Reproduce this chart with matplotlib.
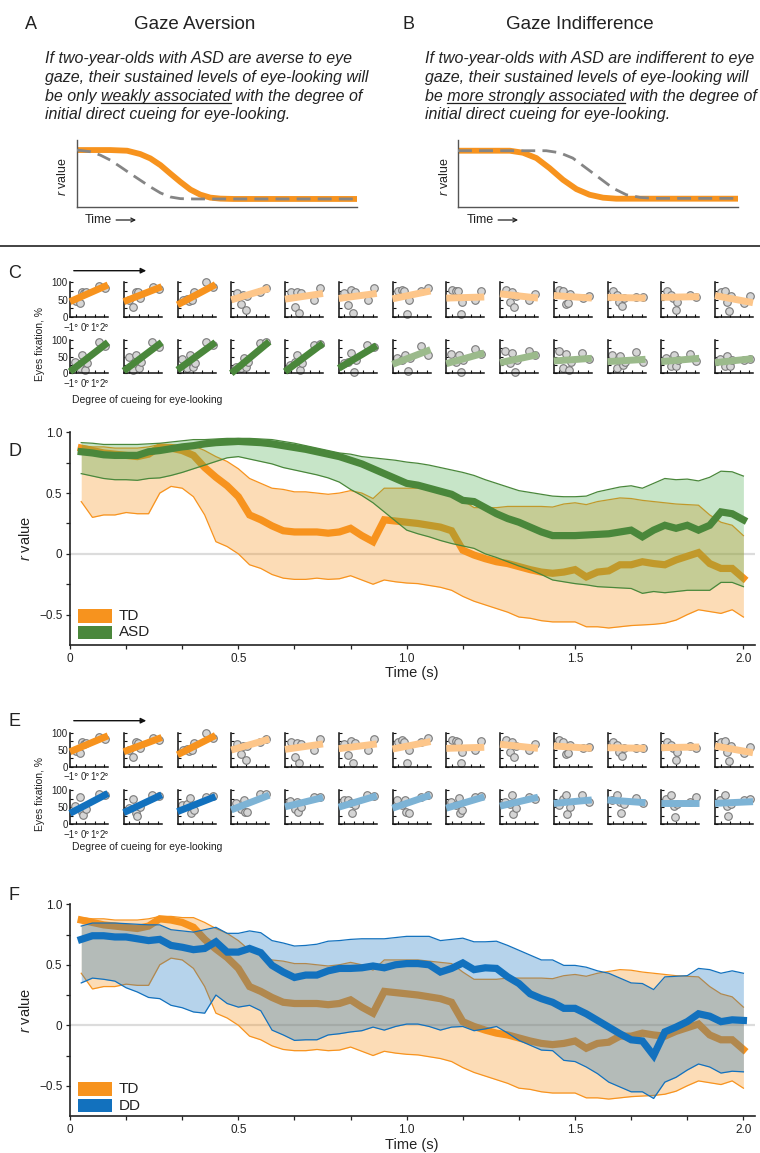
import numpy as np
import matplotlib
matplotlib.use("Agg")
import matplotlib.pyplot as plt
from matplotlib.patches import Rectangle, FancyArrowPatch
from matplotlib.lines import Line2D
from matplotlib.transforms import ScaledTranslation

plt.rcParams['font.family'] = ['Liberation Sans', 'DejaVu Sans']
plt.rcParams['mathtext.fontset'] = 'custom'
plt.rcParams['mathtext.it'] = 'Liberation Sans:italic'
plt.rcParams['mathtext.rm'] = 'Liberation Sans'

# ---------------------------------------------------------------- data
# frame times (30 Hz) for the sliding correlation
time_s = np.arange(1, 61) / 30

td_mean = [0.87, 0.85, 0.83, 0.82, 0.81, 0.80, 0.82, 0.88, 0.87, 0.85,
           0.81, 0.71, 0.63, 0.56, 0.47, 0.32, 0.28, 0.23, 0.19, 0.18,
           0.18, 0.18, 0.17, 0.18, 0.21, 0.15, 0.10, 0.28, 0.27, 0.26,
           0.25, 0.235, 0.22, 0.19, 0.03, -0.01, -0.04, -0.065, -0.08, -0.105,
           -0.13, -0.15, -0.16, -0.15, -0.13, -0.19, -0.15, -0.14, -0.09, -0.09,
           -0.065, -0.08, -0.09, -0.05, -0.02, 0.01, -0.08, -0.12, -0.12, -0.20]
td_hi = [0.89, 0.88, 0.88, 0.87, 0.87, 0.87, 0.88, 0.90, 0.90, 0.89,
         0.89, 0.85, 0.80, 0.76, 0.70, 0.62, 0.58, 0.54, 0.53, 0.51,
         0.51, 0.50, 0.49, 0.50, 0.52, 0.50, 0.455, 0.54, 0.54, 0.54,
         0.54, 0.53, 0.52, 0.51, 0.44, 0.38, 0.38, 0.38, 0.39, 0.39,
         0.39, 0.39, 0.385, 0.41, 0.42, 0.405, 0.43, 0.445, 0.46, 0.455,
         0.44, 0.43, 0.42, 0.41, 0.405, 0.40, 0.32, 0.26, 0.235, 0.15]
td_lo = [0.43, 0.30, 0.32, 0.32, 0.34, 0.33, 0.33, 0.50, 0.555, 0.54,
         0.47, 0.32, 0.10, 0.06, 0.00, -0.09, -0.12, -0.17, -0.20, -0.21,
         -0.21, -0.20, -0.21, -0.205, -0.18, -0.215, -0.25, -0.215, -0.23, -0.24,
         -0.245, -0.26, -0.275, -0.30, -0.35, -0.39, -0.42, -0.45, -0.48, -0.52,
         -0.53, -0.55, -0.56, -0.56, -0.56, -0.60, -0.60, -0.61, -0.60, -0.59,
         -0.585, -0.58, -0.57, -0.545, -0.50, -0.46, -0.475, -0.49, -0.46, -0.52]

asd_mean = [0.84, 0.83, 0.815, 0.81, 0.81, 0.81, 0.84, 0.85, 0.865, 0.88,
            0.89, 0.905, 0.915, 0.92, 0.925, 0.92, 0.915, 0.905, 0.89, 0.875,
            0.86, 0.84, 0.82, 0.80, 0.77, 0.74, 0.70, 0.66, 0.62, 0.58,
            0.565, 0.54, 0.515, 0.49, 0.44, 0.43, 0.38, 0.33, 0.29, 0.26,
            0.22, 0.18, 0.15, 0.15, 0.15, 0.155, 0.16, 0.165, 0.18, 0.195,
            0.14, 0.195, 0.235, 0.21, 0.235, 0.195, 0.235, 0.345, 0.33, 0.28]
asd_hi = [0.915, 0.91, 0.90, 0.90, 0.90, 0.90, 0.905, 0.91, 0.92, 0.93,
          0.94, 0.94, 0.945, 0.95, 0.95, 0.95, 0.945, 0.94, 0.925, 0.91,
          0.89, 0.87, 0.85, 0.83, 0.82, 0.80, 0.79, 0.78, 0.77, 0.755,
          0.745, 0.73, 0.71, 0.69, 0.67, 0.645, 0.61, 0.58, 0.55, 0.52,
          0.505, 0.49, 0.475, 0.47, 0.47, 0.475, 0.51, 0.53, 0.55, 0.56,
          0.54, 0.58, 0.62, 0.61, 0.615, 0.60, 0.63, 0.68, 0.675, 0.64]
asd_lo = [0.66, 0.64, 0.62, 0.61, 0.61, 0.605, 0.62, 0.625, 0.645, 0.67,
          0.70, 0.73, 0.76, 0.79, 0.80, 0.78, 0.76, 0.74, 0.71, 0.69,
          0.67, 0.65, 0.625, 0.59, 0.53, 0.48, 0.42, 0.345, 0.27, 0.195,
          0.165, 0.14, 0.11, 0.085, 0.065, 0.045, 0.0, -0.03, -0.065, -0.10,
          -0.13, -0.17, -0.215, -0.23, -0.245, -0.255, -0.27, -0.275, -0.28, -0.285,
          -0.325, -0.31, -0.32, -0.31, -0.30, -0.30, -0.30, -0.235, -0.235, -0.27]

dd_mean = [0.71, 0.74, 0.74, 0.73, 0.73, 0.715, 0.70, 0.71, 0.66, 0.645,
           0.625, 0.635, 0.69, 0.605, 0.605, 0.635, 0.60, 0.495, 0.44, 0.395,
           0.415, 0.415, 0.45, 0.47, 0.47, 0.475, 0.49, 0.475, 0.50, 0.51,
           0.51, 0.50, 0.44, 0.47, 0.515, 0.46, 0.475, 0.47, 0.40, 0.345,
           0.26, 0.22, 0.19, 0.14, 0.14, 0.095, 0.04, -0.015, -0.07, -0.12,
           -0.13, -0.25, -0.055, -0.015, 0.03, 0.095, 0.075, 0.03, 0.045, 0.04]
dd_hi = [0.82, 0.845, 0.845, 0.845, 0.84, 0.835, 0.83, 0.83, 0.79, 0.78,
         0.77, 0.79, 0.81, 0.76, 0.76, 0.78, 0.765, 0.70, 0.68, 0.655,
         0.66, 0.67, 0.695, 0.70, 0.71, 0.715, 0.715, 0.715, 0.725, 0.735,
         0.735, 0.735, 0.70, 0.71, 0.72, 0.69, 0.69, 0.695, 0.66, 0.62,
         0.58, 0.54, 0.54, 0.495, 0.495, 0.48, 0.45, 0.43, 0.39, 0.35,
         0.345, 0.295, 0.40, 0.405, 0.41, 0.47, 0.46, 0.43, 0.45, 0.43]
dd_lo = [0.35, 0.39, 0.38, 0.365, 0.31, 0.275, 0.23, 0.22, 0.165, 0.145,
         0.11, 0.10, 0.25, 0.18, 0.15, 0.165, 0.12, -0.04, -0.08, -0.125,
         -0.12, -0.12, -0.08, -0.07, -0.055, -0.045, -0.015, -0.04, -0.01, 0.01,
         0.01, -0.01, -0.04, -0.015, -0.01, -0.045, -0.03, -0.01, -0.065, -0.125,
         -0.165, -0.205, -0.21, -0.29, -0.30, -0.345, -0.40, -0.47, -0.51, -0.55,
         -0.55, -0.605, -0.47, -0.43, -0.37, -0.32, -0.345, -0.395, -0.38, -0.385]

# small multiples: degree of cueing (deg) and eyes fixation (%) per time window
cue_td = [-1.0, -0.6, -0.35, -0.1, 0.1, 1.45, 2.1]
cue_asd = [-1.1, -0.6, -0.3, 0.0, 0.2, 1.4, 2.1]
cue_dd = [-1.1, -0.6, -0.3, -0.2, 0.1, 1.4, 2.1]

fix_td = [[45, 40, 72, 68, 70, 87, 82], [50, 30, 72, 70, 55, 84, 79],
          [50, 52, 45, 48, 70, 98, 84], [68, 37, 62, 20, 60, 72, 82],
          [72, 30, 70, 11, 68, 49, 81], [67, 35, 76, 11, 70, 49, 81],
          [74, 78, 74, 10, 49, 74, 83], [78, 75, 74, 10, 44, 49, 75],
          [78, 44, 72, 29, 60, 49, 66], [78, 74, 36, 39, 65, 54, 59],
          [74, 64, 44, 32, 55, 56, 56], [74, 64, 55, 20, 44, 62, 56],
          [72, 75, 44, 17, 60, 39, 59]]
fix_asd = [[35, 15, 55, 10, 30, 93, 83], [50, 10, 55, 15, 35, 93, 80],
           [43, 15, 55, 20, 30, 93, 85], [20, 15, 45, 20, 35, 90, 93],
           [25, 35, 55, 10, 30, 85, 87], [30, 35, 60, 5, 40, 85, 80],
           [47, 40, 56, 6, 45, 83, 56], [58, 35, 56, 3, 40, 74, 58],
           [66, 32, 61, 3, 40, 66, 54], [66, 17, 58, 10, 35, 61, 42],
           [56, 17, 51, 25, 35, 64, 35], [47, 22, 56, 22, 40, 58, 37],
           [42, 22, 51, 22, 40, 39, 42]]
fix_dd = [[53, 81, 37, 27, 45, 88, 85], [47, 73, 32, 24, 50, 85, 83],
          [56, 60, 76, 34, 42, 81, 83], [61, 45, 71, 37, 37, 88, 87],
          [69, 44, 66, 37, 50, 81, 81], [71, 71, 61, 34, 55, 85, 83],
          [71, 55, 71, 37, 34, 81, 85], [66, 55, 76, 32, 42, 81, 83],
          [66, 60, 85, 30, 47, 79, 74], [56, 75, 85, 30, 51, 85, 66],
          [71, 85, 66, 32, 60, 76, 63], [73, 85, 53, 20, 60, 66, 79],
          [71, 85, 53, 24, 60, 71, 73]]

# fitted line values at the left / right edge of each cell (%)
fit_td_left = [44, 44, 35, 49, 51, 53, 52, 54, 66, 61, 56, 56, 61]
fit_td_right = [91, 86, 92, 81, 67, 67, 74, 57, 54, 54, 54, 58, 41]
fit_asd_left = [5, 7, 10, 0, 5, 15, 27, 29, 32, 37, 35, 35, 32]
fit_asd_right = [93, 93, 93, 95, 90, 83, 71, 61, 56, 45, 42, 45, 44]
fit_dd_left = [32, 34, 37, 42, 51, 50, 47, 47, 53, 61, 71, 63, 61]
fit_dd_right = [90, 86, 81, 85, 78, 83, 85, 80, 79, 71, 63, 63, 66]
n_strong_td, n_strong_asd, n_strong_dd = 3, 6, 3

# schematic curves (time fraction, r value fraction)
a_td_t = [0, 0.119, 0.179, 0.226, 0.262, 0.298, 0.333, 0.369, 0.405, 0.44, 0.476, 0.512, 0.56, 1.0]
a_td_r = [0.85, 0.85, 0.84, 0.79, 0.725, 0.625, 0.5, 0.375, 0.26, 0.185, 0.14, 0.125, 0.12, 0.12]
a_asd_t = [0, 0.048, 0.083, 0.119, 0.155, 0.19, 0.226, 0.262, 0.298, 0.333, 0.369, 0.417, 1.0]
a_asd_r = [0.85, 0.825, 0.775, 0.70, 0.60, 0.50, 0.40, 0.30, 0.21, 0.15, 0.125, 0.12, 0.12]
b_td_t = [0, 0.185, 0.232, 0.28, 0.327, 0.375, 0.423, 0.47, 0.518, 0.565, 1.0]
b_td_r = [0.84, 0.84, 0.81, 0.73, 0.58, 0.406, 0.267, 0.183, 0.139, 0.124, 0.124]
b_asd_t = [0, 0.315, 0.363, 0.41, 0.458, 0.506, 0.554, 0.601, 0.649, 0.696, 1.0]
b_asd_r = [0.84, 0.84, 0.81, 0.73, 0.58, 0.43, 0.28, 0.183, 0.144, 0.129, 0.129]

# ---------------------------------------------------------------- style
ORANGE = '#F7931E'
ORANGE_LIGHT = '#FDC68A'
GREEN = '#4A873B'
GREEN_LIGHT = '#9BBA8B'
GREEN_FILL = '#46AA4B'
BLUE = '#1271BE'
BLUE_LIGHT = '#7DB3D5'
BLUE_FILL = '#1070BE'
INK = '#222222'

W, H = 760, 1153
fig = plt.figure(figsize=(W / 100, H / 100), dpi=100)
renderer = fig.canvas.get_renderer()


def rect(x0, y0, x1, y1):
    return [x0 / W, 1 - y1 / H, (x1 - x0) / W, (y1 - y0) / H]


def ftext(x, y, s, **kw):
    kw.setdefault('color', INK)
    return fig.text(x / W, 1 - y / H, s, **kw)


# ---------------------------------------------------------------- A / B
def measure(s, **kw):
    t = fig.text(0, 0, s, **kw)
    w = t.get_window_extent(renderer).width
    t.remove()
    return w


def paragraph(x, lines, size=11.5):
    base = [63, 82, 100.5, 119.5]
    kw = dict(fontsize=size, style='italic')
    for y, line in zip(base, lines):
        if isinstance(line, tuple):
            pre, mid, post = line
            ftext(x, y, pre + mid + post, va='baseline', ha='left', **kw)
            bar = measure('|', **kw)
            w_pre = measure(pre + '|', **kw) - bar
            w_mid = measure(pre + mid + '|', **kw) - bar - w_pre
            fig.add_artist(Line2D([(x + w_pre) / W, (x + w_pre + w_mid) / W],
                                  [1 - (y + 2) / H] * 2, color=INK, lw=0.9))
        else:
            ftext(x, y, line, va='baseline', ha='left', **kw)


def schematic(box, td_t, td_r, asd_t, asd_r, lab_x, time_x):
    ax = fig.add_axes(rect(*box))
    ax.plot(td_t, td_r, color=ORANGE, lw=4.2, solid_capstyle='round', zorder=2)
    ax.plot(asd_t, asd_r, color='#858585', lw=2.0, dashes=(5, 2.6), zorder=3)
    ax.set_xlim(0, 1)
    ax.set_ylim(0, 1)
    ax.set_xticks([])
    ax.set_yticks([])
    for s in ('top', 'right'):
        ax.spines[s].set_visible(False)
    for s in ('left', 'bottom'):
        ax.spines[s].set_color('#555555')
        ax.spines[s].set_linewidth(1.0)
    ftext(lab_x, 177, '$r$ value', rotation=90, ha='center', va='center', fontsize=9)
    t = ftext(time_x, 220, 'Time', ha='left', va='center', fontsize=9)
    x_end = time_x + t.get_window_extent(renderer).width
    fig.add_artist(FancyArrowPatch(((x_end + 4) / W, 1 - 220 / H), ((x_end + 24) / W, 1 - 220 / H),
                                   transform=fig.transFigure, arrowstyle='->', mutation_scale=7,
                                   color=INK, lw=0.9, shrinkA=0, shrinkB=0))


ftext(25, 29, 'A', fontsize=13, va='baseline')
ftext(195, 29, 'Gaze Aversion', fontsize=13.5, ha='center', va='baseline')
ftext(402, 29, 'B', fontsize=13, va='baseline')
ftext(580, 29, 'Gaze Indifference', fontsize=13.5, ha='center', va='baseline')

paragraph(45, ["If two-year-olds with ASD are averse to eye",
               "gaze, their sustained levels of eye-looking will",
               ("be only ", "weakly associated", " with the degree of"),
               "initial direct cueing for eye-looking."])
paragraph(425, ["If two-year-olds with ASD are indifferent to eye",
                "gaze, their sustained levels of eye-looking will",
                ("be ", "more strongly associated", " with the degree of"),
                "initial direct cueing for eye-looking."])

schematic((77, 140, 357, 207), a_td_t, a_td_r, a_asd_t, a_asd_r, 62.5, 85)
schematic((458, 140, 738, 207), b_td_t, b_td_r, b_asd_t, b_asd_r, 445, 467)

fig.add_artist(Line2D([0, 1], [1 - 246 / H] * 2, color=INK, lw=1.2))


# ---------------------------------------------------------------- small multiples
CELL_X0, CELL_DX, CELL_W = 70, 53.75, 38
XL = (-1.6, 2.4)


def cell(x0, top, bottom, cue, fix, y_left, y_right, color, first):
    ax = fig.add_axes(rect(x0, top, x0 + CELL_W, bottom))
    ax.scatter(cue, fix, s=30, facecolor='#D5D5D5', edgecolor='#7A7A7A',
               linewidth=0.8, zorder=2, clip_on=False)
    ax.plot(XL, [y_left, y_right], color=color, lw=5.0, solid_capstyle='butt',
            zorder=3, clip_on=False)
    ax.set_xlim(*XL)
    ax.set_ylim(0, 100)
    for s in ('top', 'right'):
        ax.spines[s].set_visible(False)
    for s in ('left', 'bottom'):
        ax.spines[s].set_linewidth(1.1)
        ax.spines[s].set_color('#111111')
    ax.set_yticks([0, 50, 100])
    ax.set_yticks([25, 75], minor=True)
    ax.set_xticks([-1, 0, 1, 2])
    ax.tick_params(which='both', direction='in', length=2.2, width=0.8,
                   labelsize=7, pad=1.5, colors='#111111', labelcolor=INK)
    ax.tick_params(axis='x', pad=3.8)
    if first:
        ax.set_yticklabels(['0', '50', '100'])
        ax.set_xticklabels(['\u22121\u00b0', '0\u00b0', '1\u00b0', '2\u00b0'])
        lab = ax.get_xticklabels()[0]
        lab.set_ha('right')
        lab.set_transform(lab.get_transform() + ScaledTranslation(3 / 100, 0, fig.dpi_scale_trans))
    else:
        ax.set_yticklabels([])
        ax.set_xticklabels([])
    return ax


def grid_block(label, y_label, rows, arrow_y, ylab_c, xlab_y):
    ftext(8, y_label, label, fontsize=13, va='center')
    fig.add_artist(FancyArrowPatch((71 / W, 1 - arrow_y / H), (149 / W, 1 - arrow_y / H),
                                   transform=fig.transFigure, arrowstyle='-|>',
                                   mutation_scale=8, color='#111111', lw=1.0))
    for (top, bottom, cue, fix, yl, yr, strong, light, n_strong) in rows:
        for c in range(len(fix)):
            col = strong if c < n_strong else light
            cell(CELL_X0 + c * CELL_DX, top, bottom, cue, fix[c], yl[c], yr[c], col, c == 0)
    ftext(40, ylab_c, 'Eyes fixation, %', rotation=90, ha='center', va='center', fontsize=7.5)
    ftext(72, xlab_y, 'Degree of cueing for eye-looking', ha='left', va='center', fontsize=7.5)


grid_block('C', 274, [
    (281.7, 317.3, cue_td, fix_td, fit_td_left, fit_td_right, ORANGE, ORANGE_LIGHT, n_strong_td),
    (340.0, 373.3, cue_asd, fix_asd, fit_asd_left, fit_asd_right, GREEN, GREEN_LIGHT, n_strong_asd),
], 270.7, 344, 400)

grid_block('E', 721, [
    (732.7, 766.7, cue_td, fix_td, fit_td_left, fit_td_right, ORANGE, ORANGE_LIGHT, n_strong_td),
    (790.0, 824.3, cue_dd, fix_dd, fit_dd_left, fit_dd_right, BLUE, BLUE_LIGHT, n_strong_dd),
], 720.7, 794, 847)


# ---------------------------------------------------------------- D / F
def band_axes(top, bottom, label, label_y, grp, grp_name, line_c, fill_c, ylab_y, xlab_y, leg_y):
    ax = fig.add_axes(rect(70, top, 755, bottom))
    g_mean, g_lo, g_hi = grp
    ax.axhline(0, color='#DCDCDC', lw=1.6, zorder=0)
    ax.fill_between(time_s, td_lo, td_hi, color=ORANGE, alpha=0.32, lw=0, zorder=1)
    ax.plot(time_s, td_lo, color=ORANGE, lw=0.9, zorder=2)
    ax.plot(time_s, td_hi, color=ORANGE, lw=0.9, zorder=2)
    ax.plot(time_s, td_mean, color=ORANGE, lw=5.2, zorder=3, solid_joinstyle='miter')
    ax.fill_between(time_s, g_lo, g_hi, color=fill_c, alpha=0.30, lw=0, zorder=4)
    ax.plot(time_s, g_lo, color=line_c, lw=0.9, zorder=5)
    ax.plot(time_s, g_hi, color=line_c, lw=0.9, zorder=5)
    ax.plot(time_s, g_mean, color=line_c, lw=5.2, zorder=6, solid_joinstyle='miter')

    ax.set_xlim(0, 685 / 336.7)
    ax.set_ylim(-0.75, 1.0)
    for s in ('top', 'right'):
        ax.spines[s].set_visible(False)
    for s in ('left', 'bottom'):
        ax.spines[s].set_linewidth(1.2)
        ax.spines[s].set_color(INK)
    ax.set_xticks([0, 0.5, 1.0, 1.5, 2.0])
    ax.set_xticklabels(['0', '0.5', '1.0', '1.5', '2.0'])
    ax.set_xticks([k / 6 for k in range(1, 12) if k % 3], minor=True)
    ax.set_yticks([-0.5, 0, 0.5, 1.0])
    ax.set_yticklabels(['\u22120.5', '0', '0.5', '1.0'])
    ax.set_yticks([-0.25, 0.25, 0.75], minor=True)
    ax.tick_params(which='both', direction='out', length=3, width=0.9,
                   labelsize=8.5, pad=2.5, colors=INK)

    ftext(8, label_y, label, fontsize=13, va='center')
    ftext(25, ylab_y, '$r$ value', rotation=90, ha='center', va='center', fontsize=10.5)
    ftext(412, xlab_y, 'Time (s)', ha='center', va='center', fontsize=10.5)

    for i, (name, col) in enumerate((('TD', ORANGE), (grp_name, line_c))):
        y0 = leg_y + i * 16.5
        fig.add_artist(Rectangle((78 / W, 1 - (y0 + 13.5) / H), 34 / W, 13.5 / H,
                                 transform=fig.transFigure, color=col, lw=0))
        ftext(119, y0 + 7, name, fontsize=11, va='center', ha='left')
    return ax


band_axes(432.3, 645, 'D', 452, (asd_mean, asd_lo, asd_hi), 'ASD', GREEN, GREEN_FILL,
          538, 673, 609)
band_axes(904.3, 1116, 'F', 895, (dd_mean, dd_lo, dd_hi), 'DD', BLUE, BLUE_FILL,
          1010, 1145, 1082)

fig.savefig('out.png', dpi=100)
